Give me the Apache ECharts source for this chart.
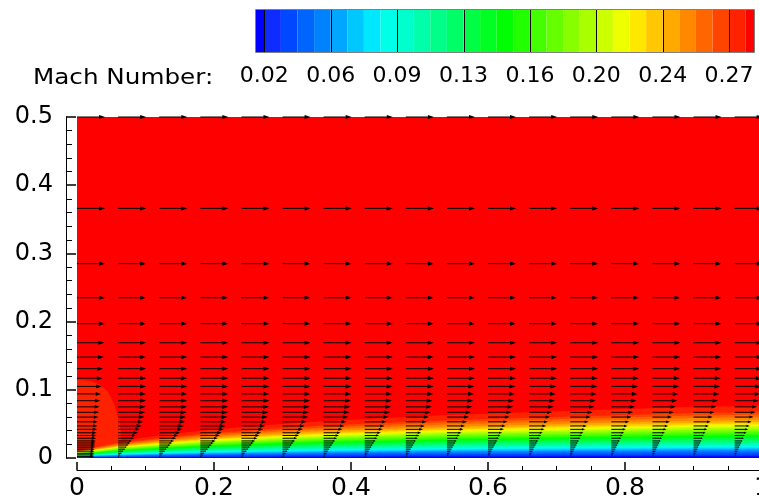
<!DOCTYPE html>
<html><head><meta charset="utf-8">
<script src="https://cdn.jsdelivr.net/npm/echarts@6/dist/echarts.min.js"></script>
<style>html,body{margin:0;padding:0;background:#fff}#c{width:759px;height:501px}</style>
</head><body><div id="c"></div>
<script>
// ---------- values ----------
const colorbarTitle = 'Mach Number:';
const colorbarLabels = ['0.02','0.06','0.09','0.13','0.16','0.20','0.24','0.27'];
// 31 contour bands (lowest Mach -> highest Mach)
const bandColors = ['#0000FF',
  '#0E2CFF','#0048FF','#0064FF','#0082FF',
  '#00A6FF','#00C8FF','#00E8FF','#00FFE8',
  '#00FFCC','#00FFAA','#00FF88','#00FF66',
  '#00FF44','#00FF22','#00FF00','#22FF00',
  '#44FF00','#66FF00','#88FF00','#AAFF00',
  '#CCFF00','#EEFF00','#FFE800','#FFC800',
  '#FFAA00','#FF8800','#FF6600','#FF4400',
  '#FF2200','#FF0000'];
// height of each contour-level boundary, as a fraction of the boundary-layer edge height
const levelEta = [0.035,0.06,0.09,0.12,0.15,0.17,0.19,0.21,0.23,0.26,0.29,0.32,0.35,0.38,0.41,0.43,
  0.46,0.49,0.52,0.55,0.58,0.61,0.63,0.66,0.69,0.73,0.78,0.83,0.88,1.0];
// boundary-layer edge height (start of pure red) along the plate
const stationX   = [0,0.06,0.12,0.18,0.24,0.30,0.36,0.42,0.48,0.54,0.60,0.66,0.72,0.78,0.84,0.90,0.96,1.0];
const edgeDelta  = [0.012,0.025,0.033,0.040,0.045,0.050,0.054,0.057,0.060,0.063,0.065,0.067,0.069,0.071,0.073,0.075,0.076,0.077];
// slightly slower region at the leading edge (outline)
const bubbleX = [0,0.02,0.034,0.045,0.054,0.060,0.064,0.066,0.066];
const bubbleY = [0.115,0.113,0.107,0.097,0.080,0.060,0.040,0.020,0];
// velocity vectors
const vectorColumns = [0,0.06,0.12,0.18,0.24,0.30,0.36,0.42,0.48,0.54,0.60,0.66,0.72,0.78,0.84,0.90,0.96];
const vectorRows = [0.5,0.366,0.285,0.235,0.197,0.169,0.148,0.131,0.117,0.105,0.094,0.084,0.075,0.067,0.060,
  0.053,0.047,0.042,0.037,0.033,0.029,0.025,0.022,0.019,0.016,0.013,0.010,0.007,0.0045,0.002];
const arrowDelta    = [0.12,0.042,0.039,0.038,0.042,0.046,0.050,0.053,0.056,0.059,0.061,0.063,0.065,0.067,0.069,0.071,0.072];
const arrowWallFrac = [0.6,0,0,0,0,0,0,0,0,0,0,0,0,0,0,0,0];
const arrowProfileEta  = [0,0.1,0.3,0.5,0.7,0.9,1.1,1.3,1.6,2.0,10];
const arrowProfileFrac = [0,0.08,0.25,0.42,0.58,0.72,0.84,0.92,0.97,1.0,1.0];
const freestreamArrow = 0.041;

// ---------- build tables for the library ----------
function profile(eta){
  for(let i=1;i<arrowProfileEta.length;i++){
    if(eta<=arrowProfileEta[i]){
      const a=arrowProfileEta[i-1], b=arrowProfileEta[i];
      return arrowProfileFrac[i-1]+(arrowProfileFrac[i]-arrowProfileFrac[i-1])*(eta-a)/(b-a);
    }
  }
  return 1;
}
const arrowData=[];
vectorColumns.forEach((xc,c)=>{
  vectorRows.forEach(yr=>{
    const f=arrowWallFrac[c]+(1-arrowWallFrac[c])*profile(yr/arrowDelta[c]);
    arrowData.push([xc,yr,xc+freestreamArrow*f]);
  });
});
// field layers: 0 = freestream, 1 = leading-edge region, then levels 29..0
const fieldLayers=[];
for(let i=0;i<32;i++) fieldLayers.push([i]);
const bandItems=bandColors.map((c,k)=>[k]);
const sepItems=[0,4,8,12,16,20,24,28].map(v=>[v]);

const chart=echarts.init(document.getElementById('c'),null,{renderer:'canvas'});
const FONT='DejaVu Sans';
chart.setOption({
  animation:false,
  backgroundColor:'#fff',
  grid:[
    {left:77,top:117,width:685,height:341,outerBoundsMode:'none',containLabel:false},
    {left:256,top:10,width:498,height:42,outerBoundsMode:'none',containLabel:false}
  ],
  xAxis:[
    {type:'value',gridIndex:0,min:0,max:1,interval:0.2,offset:12,position:'bottom',
     axisLine:{show:true,onZero:false,lineStyle:{color:'#000',width:1}},
     axisTick:{show:true,inside:true,length:8,lineStyle:{color:'#000',width:1.5}},
     minorTick:{show:true,splitNumber:4,length:4,lineStyle:{color:'#000',width:1}},
     splitLine:{show:false},minorSplitLine:{show:false},
     axisLabel:{color:'#000',fontSize:25,fontFamily:FONT,margin:6}},
    {type:'value',gridIndex:1,min:-0.5,max:29.5,
     axisLine:{show:false},axisTick:{show:false},splitLine:{show:false},
     axisLabel:{show:true,customValues:[0,4,8,12,16,20,24,28],
       formatter:v=>colorbarLabels[Math.round(v/4)],
       color:'#000',fontSize:22,fontFamily:FONT,margin:13}}
  ],
  yAxis:[
    {type:'value',gridIndex:0,min:0,max:0.5,interval:0.1,offset:11,position:'left',
     axisLine:{show:true,onZero:false,lineStyle:{color:'#000',width:1}},
     axisTick:{show:true,inside:true,length:10,lineStyle:{color:'#000',width:1.5}},
     minorTick:{show:true,splitNumber:5,length:6,lineStyle:{color:'#000',width:1}},
     splitLine:{show:false},minorSplitLine:{show:false},
     axisLabel:{color:'#000',fontSize:24,fontFamily:FONT,margin:13}},
    {type:'value',gridIndex:1,min:0,max:1,show:false}
  ],
  graphic:[{type:'text',x:33,y:78,scaleX:1.12,
    style:{text:colorbarTitle,fontSize:22,fontFamily:FONT,fill:'#000',verticalAlign:'middle'}}],
  series:[
    {type:'custom',name:'field',xAxisIndex:0,yAxisIndex:0,data:fieldLayers,encode:{x:-1,y:-1},
     renderItem:function(params,api){
       const idx=params.dataIndex;
       if(idx===0){
         const a=api.coord([0,0.5]),b=api.coord([1,0]);
         return {type:'rect',shape:{x:a[0],y:a[1],width:b[0]-a[0],height:b[1]-a[1]},style:{fill:bandColors[30]}};
       }
       if(idx===1){
         const pts=bubbleX.map((x,i)=>api.coord([x,bubbleY[i]]));
         pts.push(api.coord([0,0]));
         return {type:'polygon',shape:{points:pts},style:{fill:bandColors[29]}};
       }
       const k=29-(idx-2);
       const pts=stationX.map((x,i)=>api.coord([x,edgeDelta[i]*levelEta[k]]));
       pts.push(api.coord([1,0]));pts.push(api.coord([0,0]));
       return {type:'polygon',shape:{points:pts},style:{fill:bandColors[k]}};
     }},
    {type:'custom',name:'vectors',xAxisIndex:0,yAxisIndex:0,data:arrowData,encode:{x:0,y:1},
     renderItem:function(params,api){
       const p0=api.coord([api.value(0),api.value(1)]);
       const p1=api.coord([api.value(2),api.value(1)]);
       const len=p1[0]-p0[0];
       if(len<0.8) return null;
       const h=Math.min(6,len*0.22), w=h*0.35;
       return {type:'group',children:[
         {type:'line',shape:{x1:p0[0],y1:p0[1],x2:p1[0]-h*0.6,y2:p1[1]},style:{stroke:'#000',lineWidth:1}},
         {type:'polygon',shape:{points:[[p1[0],p1[1]],[p1[0]-h,p1[1]-w],[p1[0]-h,p1[1]+w]]},style:{fill:'#000'}}
       ]};
     }},
    {type:'custom',name:'colorbar',xAxisIndex:1,yAxisIndex:1,data:bandItems,encode:{x:-1,y:-1},
     renderItem:function(params,api){
       const k=params.dataIndex;
       const x0=k===0?-0.5:k-1, x1=k===30?29.5:k;
       const a=api.coord([x0,1]),b=api.coord([x1,0]);
       return {type:'rect',shape:{x:a[0],y:a[1],width:b[0]-a[0],height:b[1]-a[1]},style:{fill:bandColors[k]}};
     }},
    {type:'custom',name:'colorbarLines',xAxisIndex:1,yAxisIndex:1,data:sepItems,encode:{x:0,y:-1},
     renderItem:function(params,api){
       const a=api.coord([api.value(0),1]),b=api.coord([api.value(0),0]);
       const x=Math.round(a[0])+0.5;
       return {type:'line',shape:{x1:x,y1:a[1],x2:x,y2:b[1]},style:{stroke:'#000',lineWidth:1}};
     }},
    {type:'custom',name:'colorbarFrame',xAxisIndex:1,yAxisIndex:1,data:[[0]],encode:{x:-1,y:-1},
     renderItem:function(params,api){
       const a=api.coord([-0.5,1]),b=api.coord([29.5,0]);
       return {type:'rect',shape:{x:Math.round(a[0])-0.5,y:Math.round(a[1])-0.5,width:Math.round(b[0]-a[0])+1,height:Math.round(b[1]-a[1])+1},
         style:{fill:null,stroke:'#7f7f7f',lineWidth:1}};
     }}
  ]
});
</script></body></html>
